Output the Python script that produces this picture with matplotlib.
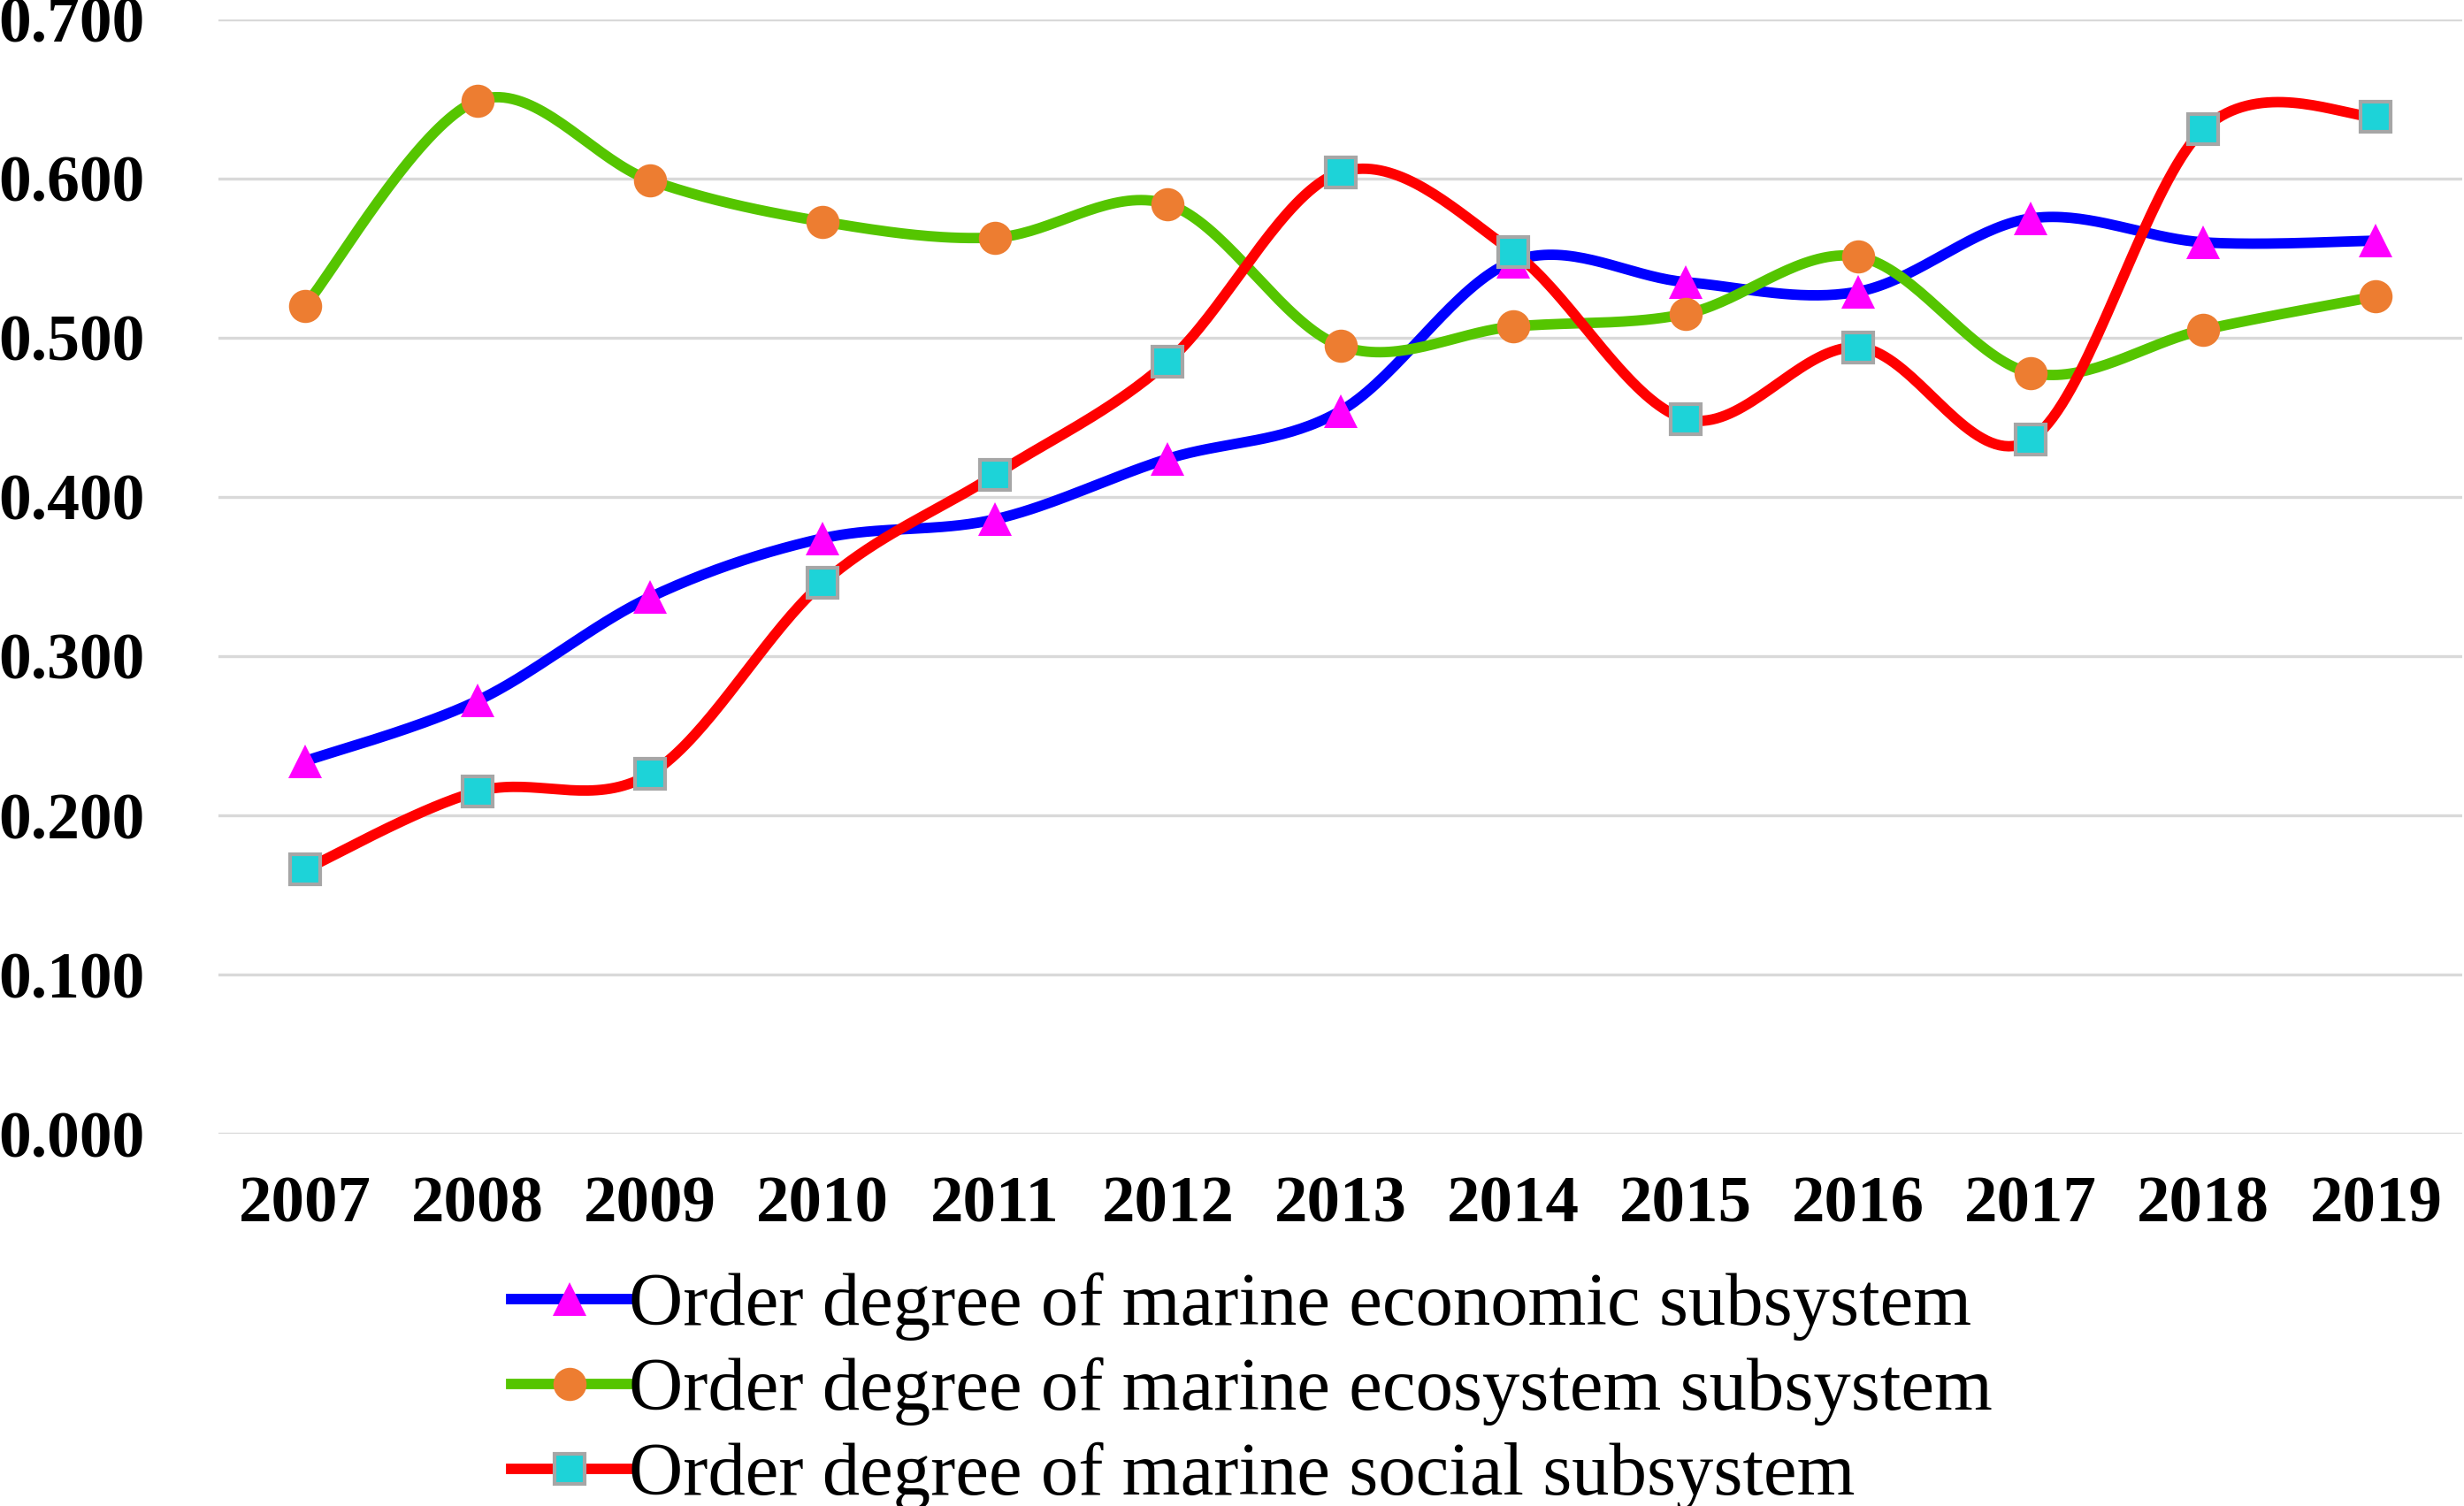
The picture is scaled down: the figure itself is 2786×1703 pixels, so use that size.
import numpy as np
import matplotlib
matplotlib.use("Agg")
import matplotlib.pyplot as plt
from matplotlib.lines import Line2D

years = ["2007", "2008", "2009", "2010", "2011", "2012", "2013",
         "2014", "2015", "2016", "2017", "2018", "2019"]
economic = [0.234, 0.272, 0.337, 0.374, 0.386, 0.424, 0.454,
            0.548, 0.535, 0.529, 0.575, 0.560, 0.561]
ecosystem = [0.520, 0.649, 0.599, 0.573, 0.563, 0.584, 0.495,
             0.507, 0.515, 0.551, 0.478, 0.505, 0.526]
social = [0.166, 0.215, 0.226, 0.346, 0.414, 0.485, 0.604,
          0.554, 0.449, 0.494, 0.436, 0.631, 0.639]
labels = ["Order degree of marine economic subsystem",
          "Order degree of marine ecosystem subsystem",
          "Order degree of marine social subsystem"]
yticks = [0.0, 0.1, 0.2, 0.3, 0.4, 0.5, 0.6, 0.7]


def smooth(x, y, n=40):
    """Excel-style smoothed line (Catmull-Rom as cubic Bezier)."""
    x = np.asarray(x, float)
    y = np.asarray(y, float)
    P = np.column_stack([x, y])
    Pp = np.vstack([P[0], P, P[-1]])
    out = []
    t = np.linspace(0, 1, n)[:, None]
    for i in range(len(P) - 1):
        p0, p3 = P[i], P[i + 1]
        c1 = p0 + (Pp[i + 2] - Pp[i]) / 6.0
        c2 = p3 - (Pp[i + 3] - Pp[i + 1]) / 6.0
        seg = ((1 - t) ** 3) * p0 + 3 * ((1 - t) ** 2) * t * c1 \
            + 3 * (1 - t) * t ** 2 * c2 + t ** 3 * p3
        out.append(seg if i == 0 else seg[1:])
    s = np.vstack(out)
    return s[:, 0], s[:, 1]


plt.rcParams['font.family'] = ['Liberation Serif', 'DejaVu Serif']

fig = plt.figure(figsize=(27.86, 17.03), dpi=100)
ax = fig.add_axes([0.0887, 0.2472, 0.9106, 0.7399])

xs = np.arange(len(years))
series = [
    (economic, '#0000ff', dict(marker='^', markerfacecolor='#ff00ff',
                               markeredgecolor='#ff00ff', markersize=27, markeredgewidth=0)),
    (ecosystem, '#55c500', dict(marker='o', markerfacecolor='#ed7d31',
                                markeredgecolor='#ed7d31', markersize=27, markeredgewidth=0)),
    (social, '#ff0000', dict(marker='s', markerfacecolor='#1dd3d8',
                             markeredgecolor='#a6a6a6', markersize=25, markeredgewidth=3)),
]

handles = []
for vals, col, mk in series:
    sx, sy = smooth(xs, vals)
    ax.plot(sx, sy, color=col, lw=8.5, solid_capstyle='round', zorder=3)
    ax.plot(xs, vals, linestyle='none', zorder=4, **mk)
    handles.append(Line2D([0], [0], color=col, lw=8.5, **mk))

ax.set_xlim(-0.5, len(years) - 0.5)
ax.set_ylim(0, 0.7)
ax.set_yticks(yticks)
ax.set_yticklabels([f"{v:.3f}" for v in yticks], fontsize=53, fontweight='bold')
ax.set_xticks(xs)
ax.set_xticklabels(years, fontsize=54, fontweight='bold')
ax.tick_params(axis='y', length=0, pad=60)
ax.tick_params(axis='x', length=0, pad=34)
ax.grid(axis='y', color='#d9d9d9', lw=2.4, zorder=0)
for s in ax.spines.values():
    s.set_visible(False)
ax.set_axisbelow(True)

fig.legend(handles, labels, loc='upper left', bbox_to_anchor=(0.2073, 0.155),
           frameon=False, fontsize=61, handlelength=1.58, handletextpad=0.0,
           labelspacing=0.22, borderpad=0, borderaxespad=0)

fig.savefig("out.png", dpi=100)
